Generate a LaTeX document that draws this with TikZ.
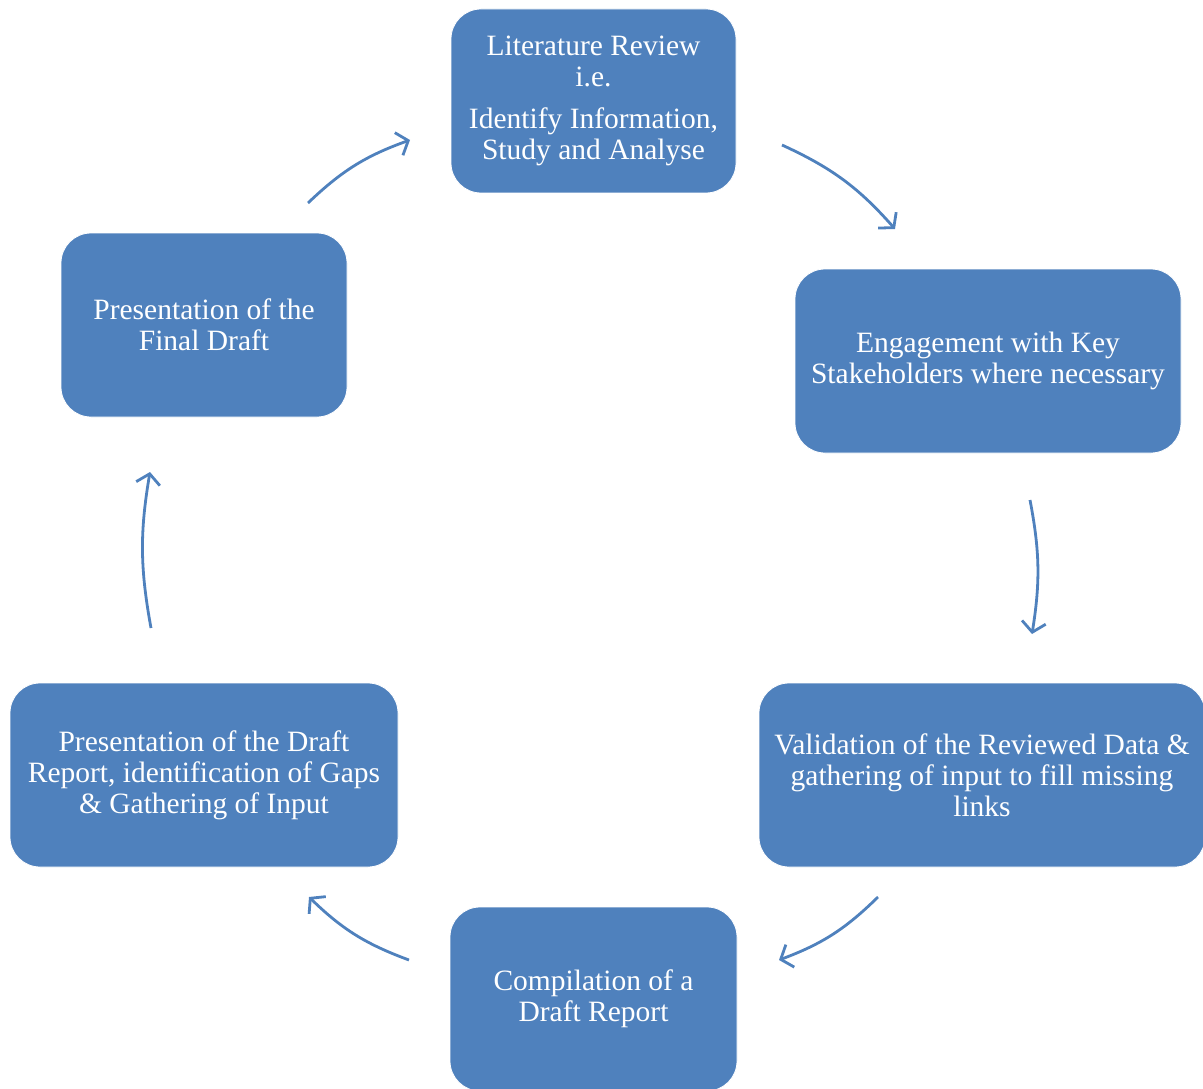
\documentclass[tikz,border=0pt]{standalone}
\usepackage{fontspec}
\setmainfont{Liberation Serif}
\usetikzlibrary{arrows.meta}
\definecolor{boxblue}{HTML}{4F81BD}
\begin{document}
\begin{tikzpicture}[x=1pt,y=-1pt,
  stage/.style={draw=white, line width=0.8pt, fill=boxblue, rounded corners=30pt, text=white,
    align=center, inner sep=0pt, font=\fontsize{29.5}{31}\selectfont},
  flow/.style={draw=boxblue, line width=2.8pt,
    -{Straight Barb[length=10pt,width=24pt,line width=2.8pt]}}]
\useasboundingbox (0,0) rectangle (1203,1089);
\node[stage, minimum width=285pt, minimum height=184pt] (lit) at (593.5,101)
  {Literature Review\\i.e.\\[11pt]Identify Information,\\Study and Analyse};
\node[stage, minimum width=386pt, minimum height=184pt] (eng) at (988,361)
  {Engagement with Key\\Stakeholders where necessary};
\node[stage, minimum width=446pt, minimum height=184pt] (val) at (982,775)
  {Validation of the Reviewed Data \&\\gathering of input to fill missing\\links};
\node[stage, minimum width=287pt, minimum height=184pt] (comp) at (593.5,999)
  {Compilation of a\\Draft Report};
\node[stage, minimum width=388pt, minimum height=184pt] (pres) at (204,775)
  {Presentation of the Draft\\Report, identification of Gaps\\\& Gathering of Input};
\node[stage, minimum width=286pt, minimum height=184pt] (fin) at (204,325)
  {Presentation of the\\Final Draft};
\coordinate (a1) at (308,203); \coordinate (a2) at (410,140);
\coordinate (b1) at (782,145); \coordinate (b2) at (895,229);
\coordinate (c1) at (1030,500); \coordinate (c2) at (1032,634);
\coordinate (d1) at (878,897); \coordinate (d2) at (779,960);
\coordinate (e1) at (409,960); \coordinate (e2) at (309,897);
\coordinate (f1) at (151,628); \coordinate (f2) at (150,472);
\draw[flow] (a1) to[bend left=12] (a2);
\draw[flow] (b1) to[bend left=12] (b2);
\draw[flow] (c1) to[bend left=10] (c2);
\draw[flow] (d1) to[bend left=12] (d2);
\draw[flow] (e1) to[bend left=12] (e2);
\draw[flow] (f1) to[bend left=10] (f2);
\end{tikzpicture}
\end{document}
